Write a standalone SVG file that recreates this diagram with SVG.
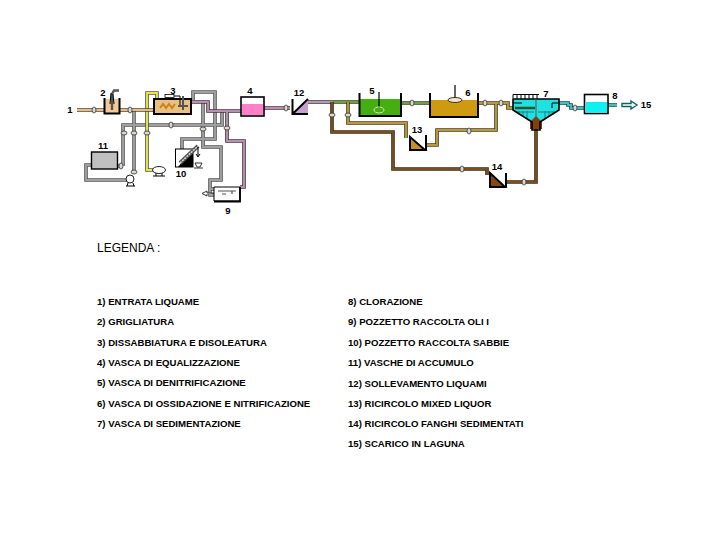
<svg xmlns="http://www.w3.org/2000/svg" width="720" height="540" viewBox="0 0 720 540">
<style>
text{font-family:"Liberation Sans",Arial,sans-serif;fill:#000}
.n{font-size:9.500px;font-weight:700;text-anchor:middle}
.l{font-size:9.600px;font-weight:700}
.t{font-size:12px}
path,rect,ellipse,line,polygon{stroke-linejoin:miter}
.p{fill:none;stroke-width:3.600}
.c{fill:none;stroke-width:1.900}
.bk{fill:none;stroke:#000;stroke-width:2}
.thin{fill:none;stroke:#000;stroke-width:1}
.v{fill:#d8d8d0;stroke:#333;stroke-width:.8}
</style>
<defs>
<ellipse id="valve" class="v" rx="3" ry="2"/>
<ellipse id="valveh" class="v" rx="2" ry="3"/>
</defs>
<rect width="720" height="540" fill="#fff"/>
<g id="connectors">
<path class="p" stroke="#555" d="M134 110V172M123 166V125H222V110M117 166H123M91 165H86V180H127M193 100V92H215V139H182V149M203 102V147H221V180H210V195H214M210 189H214"/>
<path class="c" stroke="#a0a0a0" d="M134 110V172M123 166V125H222V110M117 166H123M91 165H86V180H127M193 100V92H215V139H182V149M203 102V147H221V180H210V195H214M210 189H214"/>
<path class="p" stroke="#555" d="M153 170H147V93H157V112H190"/>
<path class="c" stroke="#e8e840" d="M153 170H147V93H157V112H170"/>
<path class="p" stroke="#5a4020" d="M77 110H104M119 110H153"/>
<path class="c" stroke="#e0c090" d="M77 110H104M119 110H153"/>
<path class="p" stroke="#4a3040" d="M191 102H208V111H241M227 111V141H244V187H240M264 108H290"/>
<path class="c" stroke="#b890b0" d="M191 102H208V111H241M227 111V141H244V187H240M264 108H290"/>
<path class="p" stroke="#4a3a40" d="M308 102H332"/>
<path class="c" stroke="#b8a0c0" d="M308 102H332"/>
<path class="p" stroke="#304020" d="M332 102H359M401 103H430"/>
<path class="c" stroke="#70a040" d="M332 102H359M401 103H430"/>
<path class="p" stroke="#3a2810" d="M332 102V132H393V169H487V175M536 129V182H506"/>
<path class="c" stroke="#7a5020" d="M332 102V132H393V169H487V175M536 129V182H506"/>
<path class="p" stroke="#4a3c10" d="M348 102V123H406V138M426 145H437V130H496V103M478 103H508V108H513"/>
<path class="c" stroke="#b89848" d="M348 102V123H406V138M426 145H437V130H496V103M478 103H508V108H513"/>
<path class="p" stroke="#104848" d="M553 103H568V105H571V108H584M608 105H617"/>
<path class="c" stroke="#40c0c0" d="M553 103H568V105H571V108H584M608 105H617"/>
<path d="M622 103.500H631V101L637 105L631 109V106.500H622Z" fill="#fff" stroke="#106060" stroke-width="1.400"/>
<path d="M214 193H207V191L202 193.500L207 196V194" fill="#fff" stroke="#333"/>
<use href="#valveh" x="94" y="110"/><use href="#valveh" x="130" y="110"/>
<use href="#valve" x="134" y="133"/><use href="#valve" x="134" y="172"/>
<use href="#valve" x="124" y="133"/><use href="#valveh" x="121" y="166"/>
<use href="#valveh" x="171" y="125"/><use href="#valve" x="147" y="133"/>
<use href="#valve" x="203" y="129"/><use href="#valve" x="227" y="128"/>
<use href="#valveh" x="286" y="108"/><use href="#valve" x="332" y="115"/>
<use href="#valve" x="348" y="115"/><use href="#valveh" x="412" y="103"/>
<use href="#valveh" x="485" y="103"/><use href="#valveh" x="501" y="103"/>
<use href="#valveh" x="469" y="131"/><use href="#valveh" x="462" y="169"/>
<use href="#valveh" x="524" y="182"/><use href="#valveh" x="575" y="108"/>
</g>
<g id="node-2">
<rect x="105" y="99" width="14" height="14" fill="#f5c898"/>
<path class="bk" d="M104.500 98V113.500H119.500V98"/>
<path d="M112 110V94L114 90.500H119" fill="none" stroke="#555" stroke-width="2.400"/>
<path d="M110 104L111 93M114 104L113 94" class="thin"/>
<text class="n" x="103" y="96">2</text>
</g>
<g id="node-3">
<rect x="154" y="99" width="37" height="15" fill="#e8c080" stroke="#000" stroke-width="2"/>
<path d="M160 108L163 104L166 108L169 104L172 108L175 104" fill="none" stroke="#d08020" stroke-width="2"/>
<path d="M166 96H180V105" class="thin"/>
<rect x="165" y="94.500" width="9" height="3" fill="#fff" stroke="#000" stroke-width=".8"/>
<path d="M183 96V110M178 106H188" fill="none" stroke="#555" stroke-width="2"/>
<text class="n" x="173" y="94">3</text>
</g>
<g id="node-4">
<rect x="241" y="97" width="23" height="19" fill="#fff" stroke="#000" stroke-width="1.600"/>
<rect x="242" y="104" width="21" height="11" fill="#ff80c8"/>
<text class="n" x="250" y="94">4</text>
</g>
<g id="node-12">
<polygon points="308,99 293,113 308,113" fill="#c8a0d0"/>
<path class="bk" d="M292.500 99V114H308M292.500 114L308 99"/>
<text class="n" x="299" y="96">12</text>
</g>
<g id="node-5">
<rect x="360" y="99" width="41" height="16" fill="#44b010"/>
<path class="bk" d="M359.500 93V116H401V93"/>
<path d="M379 92V108" stroke="#000" stroke-width="1.200"/>
<ellipse cx="379" cy="110" rx="5" ry="3" fill="none" stroke="#d0e8b0"/>
<text class="n" x="372" y="94">5</text>
</g>
<g id="node-6">
<rect x="431" y="100" width="47" height="16" fill="#d09a10"/>
<path class="bk" d="M430 93V117H478V93"/>
<path d="M455 85V100" stroke="#000" stroke-width="1.200"/>
<ellipse cx="455" cy="100" rx="7" ry="2.500" fill="#f0e8c0" stroke="#333"/>
<text class="n" x="468" y="96">6</text>
</g>
<g id="node-7">
<path d="M513 94.500H539M513 99V94.500M517 99V94.500M521 99V94.500M525 99V94.500M529 99V94.500M533 99V94.500M537 99V94.500" class="thin"/>
<path d="M513 99H559V110L540 122H532L513 110Z" fill="#20e0e0"/>
<path d="M530 122L536 116L542 122V129H530Z" fill="#804010"/>
<path d="M516 112H534M538 112H556M519 111V115M523 111V117M527 111V119M545 111V119M549 111V117M553 111V115" fill="none" stroke="#208080"/>
<path d="M513 99V110L532 122V130H540V122L559 110V99H513" fill="none" stroke="#000" stroke-width="1.600"/>
<path d="M536 99V120" stroke="#555"/>
<path d="M515 108H535" stroke="#305030" stroke-width="2.500"/>
<path d="M513 103H522M552 103H560M552 103V108" class="thin"/>
<text class="n" x="546" y="97">7</text>
</g>
<g id="node-8">
<rect x="584.500" y="94.500" width="23.500" height="19" fill="#fff" stroke="#000" stroke-width="1.600"/>
<rect x="585.500" y="102" width="21.500" height="10.500" fill="#10f0f0"/>
<text class="n" x="615" y="99">8</text>
</g>
<g id="node-9">
<rect x="214" y="187" width="26" height="14" fill="#fff"/>
<path d="M214 187H240V201H214Z" fill="none" stroke="#000"/>
<path d="M240 187V201.500H214" fill="none" stroke="#000" stroke-width="1.800"/>
<path d="M218 191H236M232 191V194M222 194H226" fill="none" stroke="#555" stroke-width="1.200"/>
<text class="n" x="228" y="214">9</text>
</g>
<g id="node-10">
<rect x="175.500" y="149" width="17.500" height="18" fill="#fff" stroke="#000"/>
<polygon points="193,149 178,167 193,167" fill="#000"/>
<path d="M180 163L198 146" stroke="#555" stroke-width="4"/>
<path d="M180 163L198 146" stroke="#ddd" stroke-width="1.500" stroke-dasharray="2 1"/>
<path d="M198 147V156M196 154L198 157L200 154" class="thin"/>
<path d="M195 163H202L200 167H197Z" fill="#fff" stroke="#333"/>
<path d="M194 168H203" stroke="#333"/>
<text class="n" x="181" y="177">10</text>
</g>
<g id="node-11">
<rect x="91.500" y="152" width="26" height="17" fill="#c0c0c0" stroke="#000" stroke-width="1.400"/>
<text class="n" x="103" y="149">11</text>
</g>
<g id="node-13">
<polygon points="410,138 424,150 410,150" fill="#c89020"/>
<path class="bk" d="M410 137L425 150H410ZM426 135V150"/>
<text class="n" x="417" y="133">13</text>
</g>
<g id="node-14">
<polygon points="490,174 504,187 490,187" fill="#8b4513"/>
<path class="bk" d="M490 173L505 187H490ZM506 173V187"/>
<text class="n" x="497" y="170">14</text>
</g>
<g id="pump">
<circle cx="130" cy="179" r="4" fill="#fff" stroke="#222"/>
<path d="M126 186H135M128 183L127 186M133 183L134 186" class="thin"/>
</g>
<g id="blower">
<ellipse cx="159" cy="170" rx="6.500" ry="3.500" fill="#fff" stroke="#222"/>
<path d="M153 176H165M156 173V176M162 173V176" class="thin"/>
</g>
<g id="node-1"><text class="n" x="70" y="113">1</text></g>
<g id="node-15"><text class="n" x="646" y="108">15</text></g>
<g id="legend">
<text class="t" x="97" y="252">LEGENDA :</text>
<text class="l" x="97" y="305">1) ENTRATA LIQUAME</text>
<text class="l" x="97" y="325">2) GRIGLIATURA</text>
<text class="l" x="97" y="346">3) DISSABBIATURA E DISOLEATURA</text>
<text class="l" x="97" y="366">4) VASCA DI EQUALIZZAZIONE</text>
<text class="l" x="97" y="386">5) VASCA DI DENITRIFICAZIONE</text>
<text class="l" x="97" y="407">6) VASCA DI OSSIDAZIONE E NITRIFICAZIONE</text>
<text class="l" x="97" y="427">7) VASCA DI SEDIMENTAZIONE</text>
<text class="l" x="348" y="305">8) CLORAZIONE</text>
<text class="l" x="348" y="325">9) POZZETTO RACCOLTA OLI I</text>
<text class="l" x="348" y="346">10) POZZETTO RACCOLTA SABBIE</text>
<text class="l" x="348" y="366">11) VASCHE DI ACCUMULO</text>
<text class="l" x="348" y="387">12) SOLLEVAMENTO LIQUAMI</text>
<text class="l" x="348" y="407">13) RICIRCOLO MIXED LIQUOR</text>
<text class="l" x="348" y="427">14) RICIRCOLO FANGHI SEDIMENTATI</text>
<text class="l" x="348" y="447">15) SCARICO IN LAGUNA</text>
</g>
</svg>
